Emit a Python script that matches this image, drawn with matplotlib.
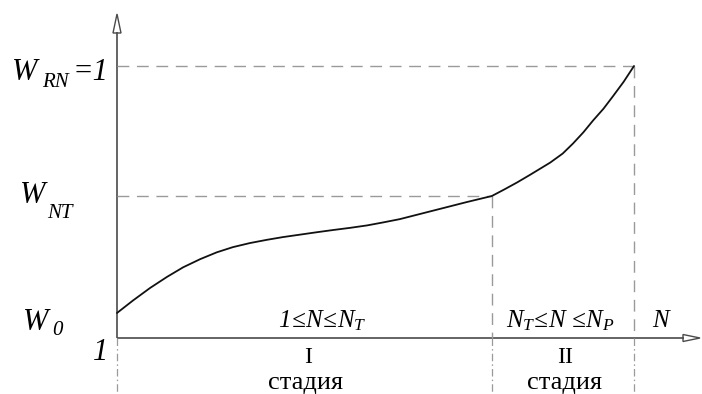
import matplotlib
matplotlib.use("Agg")
import matplotlib.pyplot as plt
from matplotlib.patches import Polygon

plt.rcParams['mathtext.fontset'] = 'custom'
plt.rcParams['mathtext.it'] = 'Liberation Serif:italic'
plt.rcParams['mathtext.rm'] = 'Liberation Serif:italic'
plt.rcParams['mathtext.fallback'] = 'stix'

# ---- data (N normalised so that N_P = 1, W normalised so that W_RN = 1) ----
N_values = [0.000, 0.031, 0.064, 0.097, 0.128, 0.161, 0.193, 0.224, 0.257, 0.290,
            0.321, 0.354, 0.387, 0.418, 0.451, 0.484, 0.515, 0.547, 0.611, 0.677,
            0.725, 0.749, 0.774, 0.799, 0.838, 0.862, 0.882, 0.902, 0.921, 0.941,
            0.959, 0.980, 1.000]
W_values = [0.092, 0.138, 0.184, 0.225, 0.260, 0.290, 0.315, 0.334, 0.349, 0.361,
            0.371, 0.380, 0.389, 0.397, 0.405, 0.414, 0.425, 0.437, 0.468, 0.500,
            0.522, 0.546, 0.572, 0.600, 0.645, 0.678, 0.715, 0.756, 0.800, 0.843,
            0.888, 0.942, 1.000]
N_T = 0.725
N_P = 1.000
W_NT = 0.522
W_RN = 1.000
W_0 = 0.092

# ---- figure / axes mapping ----
W_PX, H_PX = 702, 394
X0_PX, Y0_PX = 117, 338       # origin in pixels
SX, SY = 517.0, 272.0          # pixels per data unit

fig = plt.figure(figsize=(W_PX / 100, H_PX / 100), dpi=100)
ax = fig.add_axes([0, 0, 1, 1])
ax.set_xlim(-X0_PX / SX, (W_PX - X0_PX) / SX)
ax.set_ylim(-(H_PX - Y0_PX) / SY, Y0_PX / SY)
ax.axis('off')

def dx(p):
    return p / SX

def dy(p):
    return p / SY

def pos(xp, yp):
    return dx(xp - X0_PX), dy(Y0_PX - yp)

axis_col = '#4a4a4a'
dash_col = '#9a9a9a'
x_end = ax.get_xlim()[1] - dx(2)
y_end = ax.get_ylim()[1] - dy(14)
y_bot = ax.get_ylim()[0]

# axes lines
ax.plot([0, 0], [0, y_end - dy(18)], color=axis_col, lw=1.2, solid_capstyle='butt')
ax.plot([0, x_end - dx(16)], [0, 0], color=axis_col, lw=1.2, solid_capstyle='butt')
# hollow arrowheads
ax.add_patch(Polygon([(0, y_end), (-dx(4), y_end - dy(19)), (dx(4), y_end - dy(19))],
                     closed=True, facecolor='white', edgecolor=axis_col, lw=1.0))
ax.add_patch(Polygon([(x_end, 0), (x_end - dx(17), dy(3.5)), (x_end - dx(17), -dy(3.5))],
                     closed=True, facecolor='white', edgecolor=axis_col, lw=1.0))

# dashed guide lines
dash = (0, (8.5, 5.5))
ax.plot([0, N_P], [W_RN, W_RN], color=dash_col, lw=1.0, ls=dash)
ax.plot([0, N_T], [W_NT, W_NT], color=dash_col, lw=1.0, ls=dash)
ax.plot([N_T, N_T], [W_NT, 0], color=dash_col, lw=1.0, ls=dash)
ax.plot([N_P, N_P], [W_RN, 0], color=dash_col, lw=1.0, ls=dash)
# dash-dot lines below the axis
dashdot = (0, (6, 2.5, 1.2, 2.5))
for xv in [0, N_T, N_P]:
    ax.plot([xv, xv], [0, y_bot], color=dash_col, lw=0.9, ls=dashdot)

# curve
ax.plot(N_values, W_values, color='#111111', lw=1.3, solid_capstyle='round',
        solid_joinstyle='round')

# labels
serif = ['Liberation Serif', 'DejaVu Serif']
big = 22
sub = 15
mid = 18

def it(xp, yp, s, size):
    ax.text(*pos(xp, yp), s, fontsize=size, family=serif, style='italic',
            ha='left', va='baseline')

it(12, 80, 'W', big)
it(42, 87, 'RN', sub)
it(73, 80, '=1', big)
it(20, 203, 'W', big)
it(47, 218, 'NT', sub)
it(23, 330, 'W', big)
it(52, 335, '0', sub)
it(93, 360, '1', big)

ax.text(*pos(278, 327), r'$1\!\leq\! N\!\leq\! N_T$', fontsize=mid, ha='left', va='baseline')
ax.text(*pos(506, 327), r'$N_T\!\leq\! N\ \!\leq\! N_P$', fontsize=mid, ha='left', va='baseline')
ax.text(*pos(652, 327), r'$N$', fontsize=mid, ha='left', va='baseline')

ax.text(*pos(308, 363), 'I', fontsize=17, family=serif, ha='center', va='baseline')
ax.text(*pos(306, 389), 'стадия', fontsize=19, family=serif, ha='center', va='baseline')
ax.text(*pos(565, 363), 'II', fontsize=17, family=serif, ha='center', va='baseline')
ax.text(*pos(565, 389), 'стадия', fontsize=19, family=serif, ha='center', va='baseline')

fig.savefig('out.png', dpi=100)
